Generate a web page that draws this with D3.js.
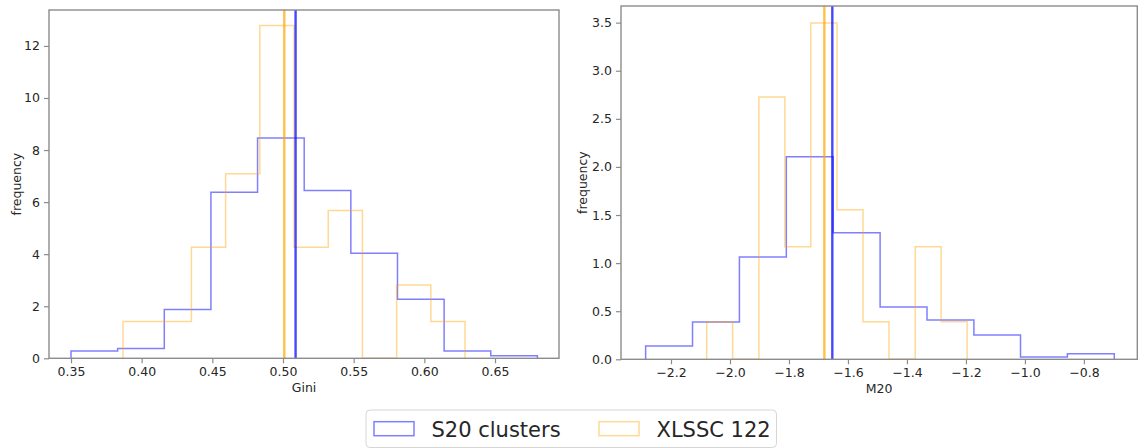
<!DOCTYPE html>
<html>
<head>
<meta charset="utf-8">
<script src="https://cdn.jsdelivr.net/npm/d3@7"></script>
<style>
  html, body { margin: 0; padding: 0; background: #fff; }
  svg { display: block; font-family: "DejaVu Sans", sans-serif; }
</style>
</head>
<body>
<svg id="chart" width="1144" height="448"></svg>
<script>
// Gini: bin edges and density heights
const giniS20Edges = [0.350, 0.383, 0.416, 0.449, 0.482, 0.515, 0.548, 0.581, 0.614, 0.647, 0.680];
const giniS20Density = [0.28, 0.38, 1.87, 6.38, 8.46, 6.45, 4.04, 2.27, 0.28, 0.10];
const giniXlsscEdges = [0.3868, 0.4110, 0.4352, 0.4594, 0.4836, 0.5078, 0.5320, 0.5562, 0.5804, 0.6046, 0.6288];
const giniXlsscDensity = [1.41, 1.41, 4.27, 7.09, 12.78, 4.27, 5.68, 0, 2.82, 1.41];
const giniMeans = { s20: 0.5089, xlssc: 0.5009 };
const giniTicks = [0.35, 0.40, 0.45, 0.50, 0.55, 0.60, 0.65];
const giniYTicks = [0, 2, 4, 6, 8, 10, 12];

// M20: bin edges and density heights
const m20S20Edges = [-2.286, -2.127, -1.968, -1.809, -1.650, -1.491, -1.332, -1.173, -1.015, -0.856, -0.697];
const m20S20Density = [0.138, 0.388, 1.063, 2.106, 1.316, 0.544, 0.409, 0.253, 0.024, 0.058];
const m20XlsscEdges = [-2.079, -1.991, -1.902, -1.814, -1.726, -1.637, -1.549, -1.461, -1.372, -1.284, -1.196];
const m20XlsscDensity = [0.39, 0, 2.727, 1.17, 3.496, 1.555, 0.39, 0, 1.17, 0.39];
const m20Means = { s20: -1.653, xlssc: -1.680 };
const m20Ticks = [-2.2, -2.0, -1.8, -1.6, -1.4, -1.2, -1.0, -0.8];
const m20YTicks = [0, 0.5, 1.0, 1.5, 2.0, 2.5, 3.0, 3.5];

const seriesNames = ["S20 clusters", "XLSSC 122"];

const blueStep = "rgba(0,0,255,0.5)";
const orangeStep = "rgba(255,165,0,0.42)";
const blueMean = "rgba(0,0,255,0.72)";
const orangeMean = "rgba(255,165,0,0.7)";
const spine = "#8c8c8c";
const textCol = "#262626";

const svg = d3.select("#chart");

function panel(cfg) {
  const g = svg.append("g");
  const x = d3.scaleLinear().domain(cfg.xDomain).range([cfg.x0, cfg.x1]);
  const y = d3.scaleLinear().domain(cfg.yDomain).range([cfg.y1, cfg.y0]);

  // outline of a step histogram
  const stepLine = d3.line().x(d => x(d[0])).y(d => y(d[1]));
  function stepPoints(edges, dens) {
    const pts = [[edges[0], 0]];
    dens.forEach((h, i) => { pts.push([edges[i], h]); pts.push([edges[i + 1], h]); });
    pts.push([edges[edges.length - 1], 0]);
    return pts;
  }

  const plot = g.append("g");
  plot.append("path")
    .attr("d", stepLine(stepPoints(cfg.s20Edges, cfg.s20Density)))
    .attr("fill", "none").attr("stroke", blueStep).attr("stroke-width", 1.5);
  plot.append("path")
    .attr("d", stepLine(stepPoints(cfg.xEdges, cfg.xDensity)))
    .attr("fill", "none").attr("stroke", orangeStep).attr("stroke-width", 1.5);

  // mean lines
  plot.append("line")
    .attr("x1", x(cfg.means.xlssc)).attr("x2", x(cfg.means.xlssc))
    .attr("y1", cfg.y0).attr("y2", cfg.y1)
    .attr("stroke", orangeMean).attr("stroke-width", 2.4);
  plot.append("line")
    .attr("x1", x(cfg.means.s20)).attr("x2", x(cfg.means.s20))
    .attr("y1", cfg.y0).attr("y2", cfg.y1)
    .attr("stroke", blueMean).attr("stroke-width", 2.4);

  // axes
  const fmtX = cfg.xFormat;
  const xAxis = d3.axisBottom(x).tickValues(cfg.xTicks).tickSize(5).tickPadding(4)
    .tickFormat(d => fmtX(d).replace("-", "\u2212"));
  const yAxis = d3.axisLeft(y).tickValues(cfg.yTicks).tickSize(5).tickPadding(4)
    .tickFormat(cfg.yFormat);

  const gx = g.append("g").attr("transform", `translate(0,${cfg.y1})`).call(xAxis);
  const gy = g.append("g").attr("transform", `translate(${cfg.x0},0)`).call(yAxis);
  [gx, gy].forEach(a => {
    a.select(".domain").remove();
    a.selectAll(".tick line").attr("stroke", spine).attr("stroke-width", 1.2);
    a.selectAll(".tick text").attr("fill", textCol)
      .style("font-family", "'DejaVu Sans', sans-serif").style("font-size", "12.5px");
  });

  // frame
  g.append("rect")
    .attr("x", cfg.x0).attr("y", cfg.y0)
    .attr("width", cfg.x1 - cfg.x0).attr("height", cfg.y1 - cfg.y0)
    .attr("fill", "none").attr("stroke", spine).attr("stroke-width", 1.4);

  // labels
  g.append("text")
    .attr("x", (cfg.x0 + cfg.x1) / 2).attr("y", cfg.xLabelY)
    .attr("text-anchor", "middle").attr("fill", textCol).style("font-size", "12.5px")
    .text(cfg.xLabel);
  g.append("text")
    .attr("transform", `translate(${cfg.yLabelX},${(cfg.y0 + cfg.y1) / 2}) rotate(-90)`)
    .attr("text-anchor", "middle").attr("fill", textCol).style("font-size", "12.5px")
    .text("frequency");
}

panel({
  x0: 49, x1: 559, y0: 10, y1: 358.3,
  xDomain: [0.33443, 0.69528], yDomain: [0, 13.38],
  s20Edges: giniS20Edges, s20Density: giniS20Density,
  xEdges: giniXlsscEdges, xDensity: giniXlsscDensity,
  means: giniMeans, xTicks: giniTicks, yTicks: giniYTicks,
  xFormat: d3.format(".2f"), yFormat: d3.format("d"),
  xLabel: "Gini", xLabelY: 392, yLabelX: 20.5
});

panel({
  x0: 621, x1: 1137.3, y0: 6, y1: 359.3,
  xDomain: [-2.3695, -0.619], yDomain: [0, 3.673],
  s20Edges: m20S20Edges, s20Density: m20S20Density,
  xEdges: m20XlsscEdges, xDensity: m20XlsscDensity,
  means: m20Means, xTicks: m20Ticks, yTicks: m20YTicks,
  xFormat: d3.format(".1f"), yFormat: d3.format(".1f"),
  xLabel: "M20", xLabelY: 393, yLabelX: 586.5
});

// legend
const leg = svg.append("g");
leg.append("rect")
  .attr("x", 366).attr("y", 410).attr("width", 410.5).attr("height", 37.5)
  .attr("rx", 4).attr("fill", "#fff").attr("stroke", "#d6d6d6").attr("stroke-width", 1);
const legItems = [
  { name: seriesNames[0], color: blueStep, hx: 374, tx: 431.5 },
  { name: seriesNames[1], color: orangeStep, hx: 599, tx: 656.5 }
];
legItems.forEach(it => {
  leg.append("rect")
    .attr("x", it.hx).attr("y", 421.7).attr("width", 40).attr("height", 14)
    .attr("fill", "none").attr("stroke", it.color).attr("stroke-width", 1.5);
  leg.append("text")
    .attr("x", it.tx).attr("y", 436.5)
    .attr("fill", textCol).style("font-size", "21px")
    .text(it.name);
});
</script>
</body>
</html>
